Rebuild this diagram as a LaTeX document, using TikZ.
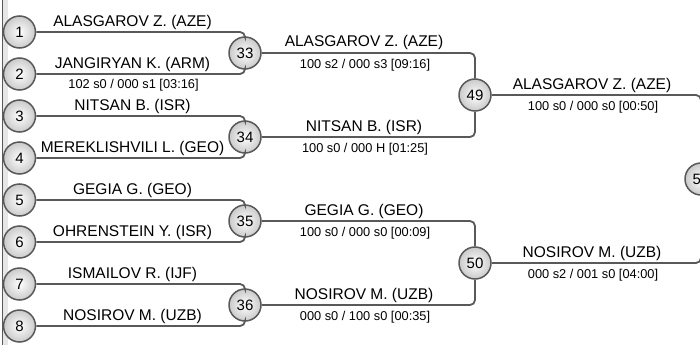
\documentclass[tikz,border=0pt]{standalone}
\usepackage{fontspec}
\setmainfont{Liberation Sans}
\definecolor{linegray}{HTML}{595959}
\definecolor{ballgray}{HTML}{CACACA}
\definecolor{stripgray}{HTML}{E6E6E6}
\begin{document}
\begin{tikzpicture}[x=1pt,y=-1pt,
    seed/.style={circle,draw=linegray,line width=1.5pt,inner sep=0pt,minimum size=32pt,
      inner color=white,outer color=ballgray,font=\fontsize{15}{15}\selectfont},
    bout/.style={draw=linegray,line width=1.8pt,rounded corners=5pt},
    player/.style={anchor=base,inner sep=0pt,font=\fontsize{15.5}{16}\selectfont},
    score/.style={anchor=base,inner sep=0pt,font=\fontsize{12.8}{13}\selectfont}]
  \useasboundingbox (0,0) rectangle (700,345);
  \clip (0,0) rectangle (700,345);
  \fill[stripgray] (3,0) rectangle (8,345);
  \draw[linegray,line width=1pt] (2.5,0) -- (2.5,345);
  \path
    (19.5,32) node[seed] (1){1}
    (19.5,74) node[seed] (2){2}
    (19.5,116) node[seed] (3){3}
    (19.5,158) node[seed] (4){4}
    (19.5,200) node[seed] (5){5}
    (19.5,242) node[seed] (6){6}
    (19.5,284) node[seed] (7){7}
    (19.5,326) node[seed] (8){8}
    (245,53) node[seed] (33){33}
    (245,137) node[seed] (34){34}
    (245,221) node[seed] (35){35}
    (245,305) node[seed] (36){36}
    (475,95) node[seed] (49){49}
    (475,263) node[seed] (50){50}
    (701,179) node[seed] (51){51};
  \begin{scope}[bout]
    \draw (1) -| (33);
    \draw (2) -| (33);
    \draw (3) -| (34);
    \draw (4) -| (34);
    \draw (5) -| (35);
    \draw (6) -| (35);
    \draw (7) -| (36);
    \draw (8) -| (36);
    \draw (33) -| (49);
    \draw (34) -| (49);
    \draw (35) -| (50);
    \draw (36) -| (50);
    \draw (49) -| (51);
    \draw (50) -| (51);
  \end{scope}
  \node[player] (p1) at (132.5,26.5) {ALASGAROV Z. (AZE)};
  \node[player] (p2) at (132.5,68.5) {JANGIRYAN K. (ARM)};
  \node[score] (s2) at (133.5,88) {102 s0 / 000 s1 [03:16]};
  \node[player] (p3) at (132.5,110.5) {NITSAN B. (ISR)};
  \node[player] (p4) at (132.5,152.5) {MEREKLISHVILI L. (GEO)};
  \node[player] (p5) at (132.5,194.5) {GEGIA G. (GEO)};
  \node[player] (p6) at (132.5,236.5) {OHRENSTEIN Y. (ISR)};
  \node[player] (p7) at (132.5,278.5) {ISMAILOV R. (IJF)};
  \node[player] (p8) at (132.5,320.5) {NOSIROV M. (UZB)};
  \node[player] (p33) at (364,47) {ALASGAROV Z. (AZE)};
  \node[score] (s33) at (365,68.5) {100 s2 / 000 s3 [09:16]};
  \node[player] (p34) at (364,131) {NITSAN B. (ISR)};
  \node[score] (s34) at (365,152.5) {100 s0 / 000 H [01:25]};
  \node[player] (p35) at (364,215) {GEGIA G. (GEO)};
  \node[score] (s35) at (365,236.5) {100 s0 / 000 s0 [00:09]};
  \node[player] (p36) at (364,299) {NOSIROV M. (UZB)};
  \node[score] (s36) at (365,320.5) {000 s0 / 100 s0 [00:35]};
  \node[player] (p49) at (592,89.5) {ALASGAROV Z. (AZE)};
  \node[score] (s49) at (593,110) {100 s0 / 000 s0 [00:50]};
  \node[player] (p50) at (592,257.5) {NOSIROV M. (UZB)};
  \node[score] (s50) at (593,278) {000 s2 / 001 s0 [04:00]};
\end{tikzpicture}
\end{document}
